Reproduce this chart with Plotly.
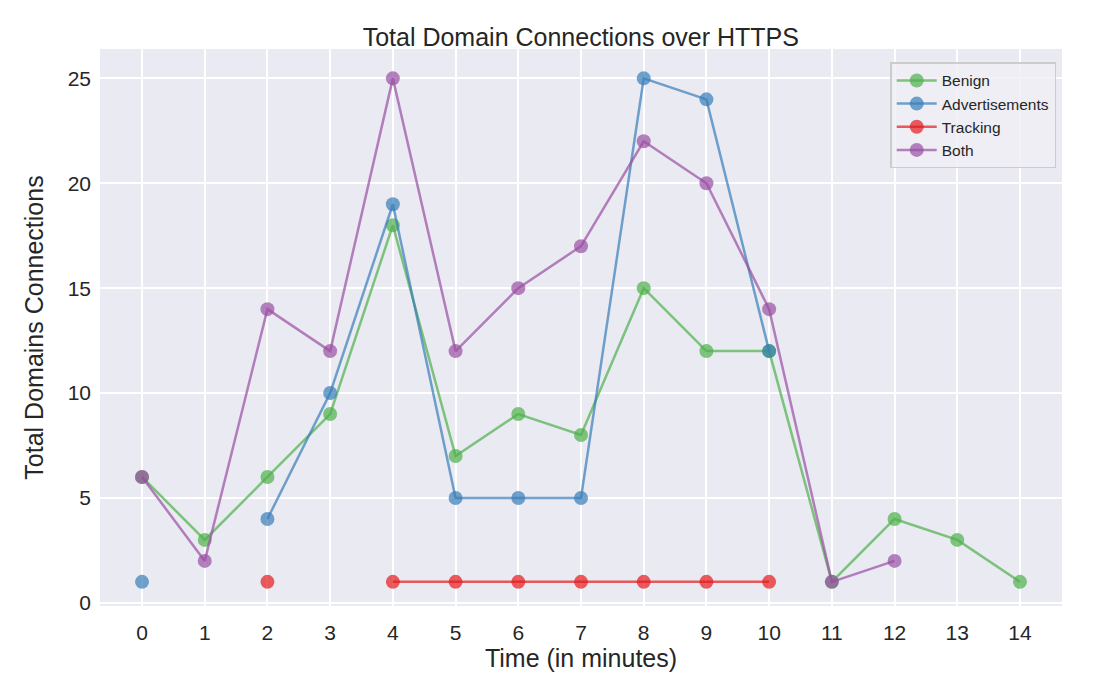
import plotly.graph_objects as go

minutes = list(range(15))
benign = [6, 3, 6, 9, 18, 7, 9, 8, 15, 12, 12, 1, 4, 3, 1]
advertisements = [1, None, 4, 10, 19, 5, 5, 5, 25, 24, 12, None, None, None, None]
tracking = [None, None, 1, None, 1, 1, 1, 1, 1, 1, 1, None, None, None, None]
both = [6, 2, 14, 12, 25, 12, 15, 17, 22, 20, 14, 1, 2, None, None]

series = [
    ("Benign", benign, "rgba(77,175,74,0.7)"),
    ("Advertisements", advertisements, "rgba(55,126,184,0.7)"),
    ("Tracking", tracking, "rgba(228,26,28,0.7)"),
    ("Both", both, "rgba(152,78,163,0.7)"),
]

font_family = "Liberation Sans, Arial, sans-serif"

fig = go.Figure()
for name, vals, color in series:
    fig.add_trace(go.Scatter(
        x=minutes, y=vals, name=name, mode="lines+markers",
        line=dict(color=color, width=2.5),
        marker=dict(color=color, size=14, line=dict(width=0)),
        connectgaps=False,
    ))

fig.update_layout(
    width=1100, height=700,
    margin=dict(l=100, r=38, t=49, b=94),
    paper_bgcolor="white",
    plot_bgcolor="#eaeaf2",
    font=dict(family=font_family, color="#262626", size=21),
    title=dict(text="Total Domain Connections over HTTPS", x=0.528, xanchor="center",
               y=1 - 37 / 700, yanchor="middle", font=dict(size=25)),
    legend=dict(x=0.994, y=0.976, xanchor="right", yanchor="top",
                bgcolor="rgba(238,238,244,0.85)", bordercolor="#cccccc", borderwidth=1.5,
                font=dict(size=15.5), tracegroupgap=0, itemwidth=40),
    showlegend=True,
)
fig.update_xaxes(
    range=[-0.67, 14.67], tickmode="array", tickvals=minutes, ticktext=[str(m) for m in minutes],
    showgrid=True, gridcolor="white", gridwidth=2, zeroline=False, showline=False,
    ticks="", ticklabelstandoff=12, tickfont=dict(size=21),
    title=dict(text="Time (in minutes)", font=dict(size=25), standoff=3),
)
fig.update_yaxes(
    range=[-0.15, 26.4], tickvals=[0, 5, 10, 15, 20, 25],
    showgrid=True, gridcolor="white", gridwidth=2, zeroline=False, showline=False,
    ticks="", ticklabelstandoff=8, tickfont=dict(size=21),
    title=dict(text="Total Domains Connections", font=dict(size=25), standoff=16),
)

fig.write_html("out.html")
